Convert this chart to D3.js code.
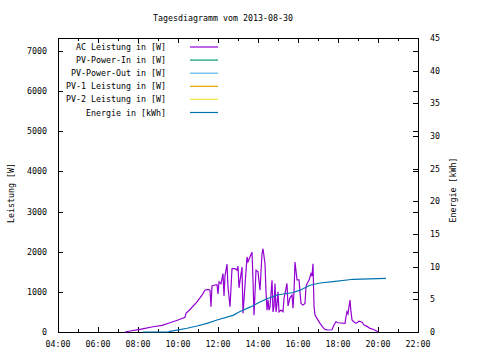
<!DOCTYPE html>
<html><head><meta charset="utf-8">
<script src="https://cdn.jsdelivr.net/npm/d3@7"></script>
<style>
body{margin:0;background:#fff;}
text{font-family:"DejaVu Sans Mono","Liberation Mono",monospace;font-size:8.3px;fill:#000;}
</style></head>
<body><svg id="c" width="480" height="360"></svg>
<script>
const title = "Tagesdiagramm vom 2013-08-30";
const seriesNames = ["AC Leistung in [W]","PV-Power-In in [W]","PV-Power-Out in [W]","PV-1 Leistung in [W]","PV-2 Leistung in [W]","Energie in [kWh]"];
const seriesColors = ["#9400d3","#009e73","#56b4e9","#e69f00","#f0e442","#0072b2"];
const yTicks = [0,1000,2000,3000,4000,5000,6000,7000];
const y2Ticks = [0,5,10,15,20,25,30,35,40,45];
const acTimes = ["07:21","07:36","08:06","08:21","08:45","09:12","09:36","10:00","10:21","10:24","10:36","10:57","11:12","11:21","11:30","11:36","11:39","11:42","11:48","11:57","12:00","12:03","12:09","12:12","12:15","12:18","12:21","12:27","12:30","12:36","12:42","12:51","12:57","13:00","13:03","13:12","13:15","13:27","13:30","13:36","13:42","13:45","13:48","13:54","14:00","14:06","14:12","14:15","14:21","14:24","14:27","14:30","14:33","14:36","14:42","14:45","14:48","14:51","14:54","14:57","15:00","15:03","15:09","15:15","15:18","15:24","15:27","15:30","15:36","15:42","15:45","15:48","15:51","15:57","16:03","16:06","16:09","16:15","16:21","16:24","16:27","16:33","16:39","16:42","16:45","16:48","16:51","16:57","17:06","17:15","17:21","17:30","17:42","17:48","17:54","18:00","18:21","18:24","18:27","18:30","18:33","18:36","18:39","18:42","18:48","18:54","19:03","19:12","19:18","19:27","19:36","19:45","19:57","20:00"];
const acValues = [0,25,67,90,130,165,230,300,365,465,560,750,920,1040,1060,1040,630,1150,1165,1180,950,1250,1200,1330,1455,900,1400,1690,1125,630,1580,1580,1540,1640,1100,1620,465,1870,1750,1870,1990,1290,420,1540,1500,1040,1950,2075,1700,1000,545,800,545,620,1290,500,640,1210,500,700,1000,500,545,505,835,1085,1210,650,850,920,590,1000,1745,1300,1300,1000,710,670,710,1125,1200,1290,1455,1390,1700,650,420,340,215,115,65,50,55,175,255,230,215,380,505,450,630,795,500,300,250,215,270,245,175,140,90,70,20,0];
const enTimes = ["08:15","09:30","09:36","09:57","10:27","10:57","11:27","11:57","12:45","13:06","13:36","14:06","14:27","14:57","15:45","16:06","16:36","17:06","17:45","18:27","18:45","20:24"];
const enValues = [0,0,0.1,0.3,0.57,0.92,1.33,1.84,2.55,3.15,3.8,4.6,5.1,5.66,6.05,6.4,7.15,7.5,7.7,7.96,8.07,8.22];

const svg = d3.select("#c");
const L=58, R=418, T=38, B=332;
const parse = d3.timeParse("%H:%M");
const x = d3.scaleTime().domain([parse("04:00"), parse("22:00")]).range([L,R]);
const y = d3.scaleLinear().domain([0,7324]).range([B,T]);
const y2 = d3.scaleLinear().domain([0,45]).range([B,T]);

svg.append("text").attr("x",223).attr("y",21).attr("text-anchor","middle").text(title);

// ticks
const g = svg.append("g").attr("stroke","#000").attr("stroke-width",1).attr("shape-rendering","crispEdges");
const major = x.ticks(d3.timeHour.every(2));
const minor = x.ticks(d3.timeHour.every(1));
minor.forEach(t=>{
  const isMajor = t.getHours()%2===0;
  const len = isMajor?5:3;
  const px = Math.round(x(t))+0.5;
  g.append("line").attr("x1",px).attr("x2",px).attr("y1",B).attr("y2",B-len);
  g.append("line").attr("x1",px).attr("x2",px).attr("y1",T).attr("y2",T+len);
});
yTicks.forEach(v=>{
  const py = Math.round(y(v))+0.5;
  g.append("line").attr("x1",L).attr("x2",L+5).attr("y1",py).attr("y2",py);
  g.append("line").attr("x1",R).attr("x2",R-5).attr("y1",py).attr("y2",py);
});
y2Ticks.forEach(v=>{
  const py = Math.round(y2(v))+0.5;
  g.append("line").attr("x1",R).attr("x2",R-5).attr("y1",py).attr("y2",py);
});
g.append("rect").attr("x",L+0.5).attr("y",T+0.5).attr("width",R-L).attr("height",B-T).attr("fill","none");

// tick labels
major.forEach(t=>{
  svg.append("text").attr("x",x(t)).attr("y",B+15).attr("text-anchor","middle").text(d3.timeFormat("%H:%M")(t));
});
yTicks.forEach(v=>{
  svg.append("text").attr("x",47).attr("y",y(v)+3).attr("text-anchor","end").text(v);
});
y2Ticks.forEach(v=>{
  svg.append("text").attr("x",430).attr("y",y2(v)+3).attr("text-anchor","start").text(v);
});
svg.append("text").attr("transform","translate(14,193) rotate(-90)").attr("text-anchor","middle").text("Leistung [W]");
svg.append("text").attr("transform","translate(456,190) rotate(-90)").attr("text-anchor","middle").text("Energie [kWh]");

// data lines
const ac = acTimes.map((t,i)=>({t:parse(t),v:acValues[i]}));
const en = enTimes.map((t,i)=>({t:parse(t),v:enValues[i]}));
svg.append("path").datum(ac).attr("fill","none").attr("stroke",seriesColors[0]).attr("stroke-width",1.2)
  .attr("d",d3.line().x(d=>x(d.t)).y(d=>y(d.v)));
svg.append("path").datum(en).attr("fill","none").attr("stroke",seriesColors[5]).attr("stroke-width",1.2)
  .attr("d",d3.line().x(d=>x(d.t)).y(d=>y2(d.v)));

// legend
seriesNames.forEach((n,i)=>{
  const ly = 47 + i*13.1;
  svg.append("text").attr("x",166).attr("y",ly+3).attr("text-anchor","end").text(n);
  svg.append("line").attr("x1",190).attr("x2",218).attr("y1",ly).attr("y2",ly)
    .attr("stroke",seriesColors[i]).attr("stroke-width",1.2);
});
</script></body></html>
